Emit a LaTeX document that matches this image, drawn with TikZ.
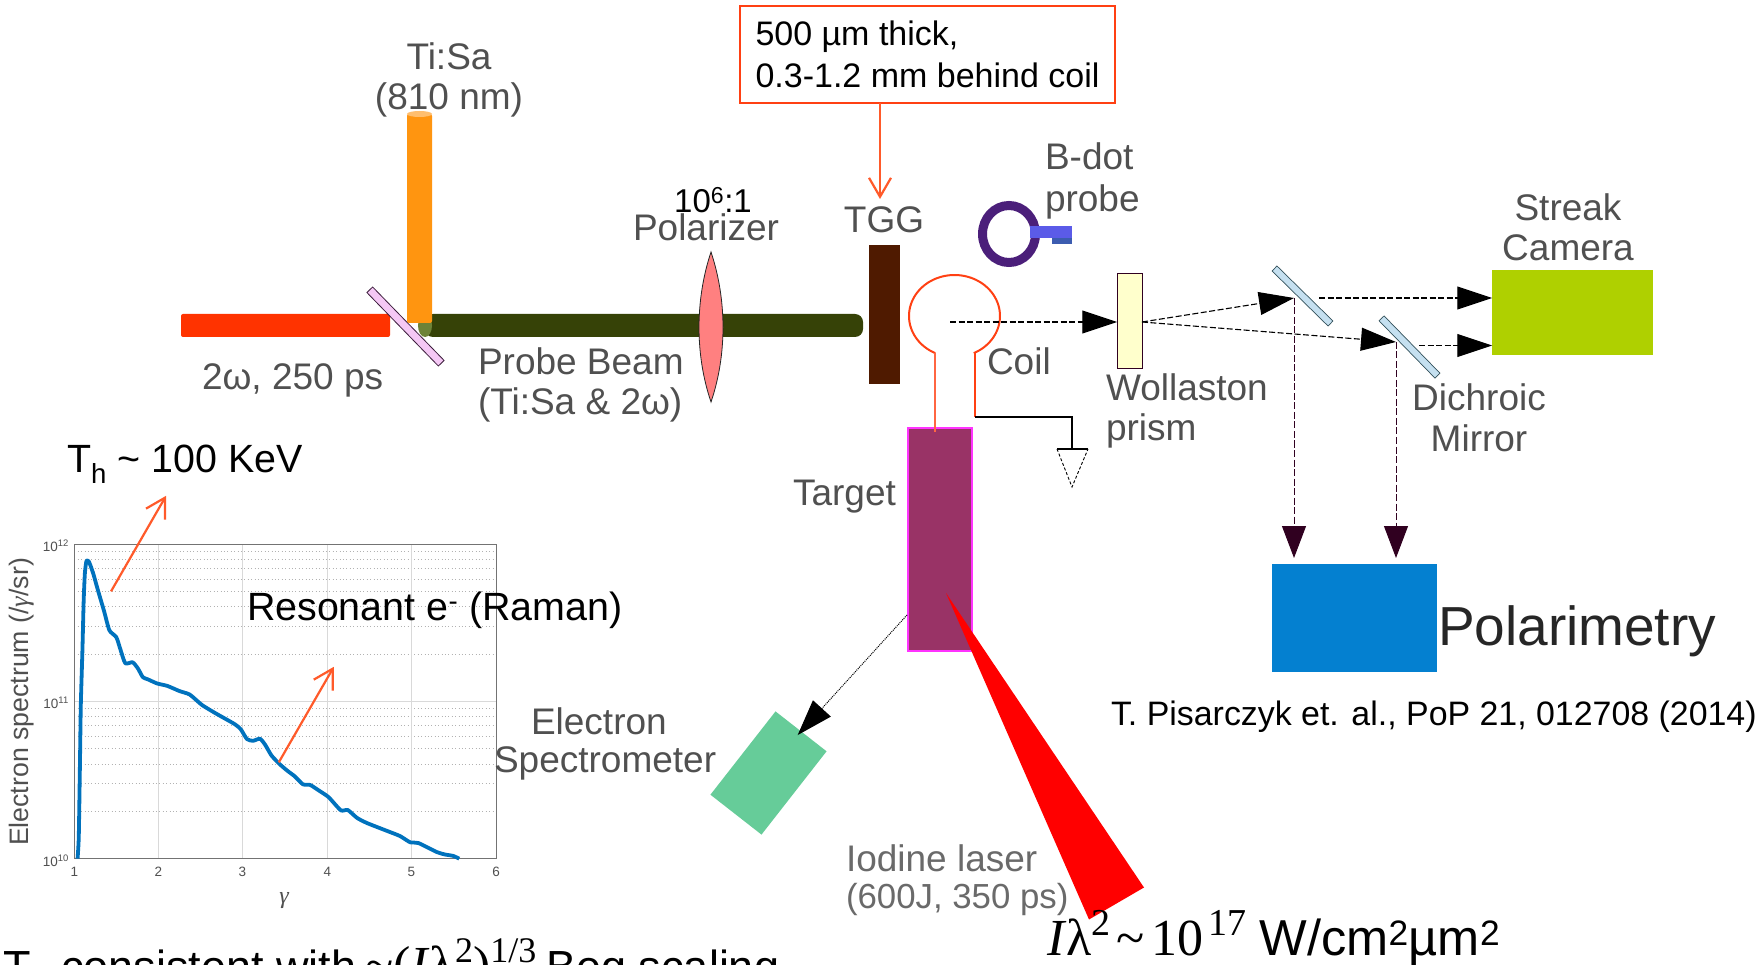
\documentclass[tikz,border=0pt]{standalone}
\usepackage{fontspec}
\setmainfont{Liberation Sans}
\newfontfamily\serifm{Liberation Serif}
\usetikzlibrary{arrows.meta,calc,shapes.geometric}
\newcommand{\fsz}[1]{\fontsize{#1}{#1}\selectfont}
\definecolor{calloutred}{HTML}{FF4013}
\definecolor{arrorange}{HTML}{FF5A2A}
\definecolor{labelgrey}{HTML}{505050}
\definecolor{plotblue}{HTML}{0072BD}
\definecolor{darkviolet}{HTML}{300020}
\tikzset{
  x=1pt,y=-1pt,
  glabel/.style={inner sep=0pt,outer sep=0pt,anchor=base west,text=labelgrey,font=\fsz{37},yshift=-3pt},
  clabel/.style={glabel,anchor=base},
  blabel/.style={inner sep=0pt,outer sep=0pt,anchor=base west,text=black,font=\fsz{39.4}},
  part/.style={rectangle,inner sep=0pt,outer sep=0pt},
  bigtip/.style={-{Triangle[length=35pt,width=23pt]}},
  beamline/.style={dash pattern=on 6pt off 2.5pt,line width=1.1pt,black,bigtip},
  polline/.style={dash pattern=on 7pt off 2.5pt,line width=1pt,darkviolet,-{Triangle[length=32pt,width=24pt]}},
  barb/.style={line width=2.2pt,arrorange,-{Straight Barb[length=19pt,width=22pt,line width=2.2pt]}},
  tick/.style={inner sep=0pt,text=labelgrey,font=\fsz{13.5}},
}
\begin{document}
\begin{tikzpicture}
\useasboundingbox (0,0) rectangle (1762,965);
\clip (0,0) rectangle (1762,965);
\fill[white] (0,0) rectangle (1762,965);
% ---- plot
\coordinate (pNW) at (74.3,544.1);
\coordinate (pSE) at (496,858.6);
\foreach \d in {0,1}{
  \foreach \n in {2,...,9}{
    \pgfmathsetmacro{\yy}{858.6-157.25*\d-157.25*log10(\n)}
    \draw[gray!60,dash pattern=on .8pt off 2.6pt,line width=.7pt] (74.3,\yy) -- (496,\yy);
  }
}
\draw[gray!30,line width=.8pt] (74.3,701.4) -- (496,701.4);
\foreach \xx in {158.4,242.4,327.3,411.4}{
  \draw[gray!30,line width=.8pt] (\xx,544.1) -- (\xx,858.6);
}
\draw[gray!90!black,line width=1pt] (pNW) rectangle (pSE);
\foreach \xx/\t in {74.3/1,158.4/2,242.4/3,327.3/4,411.4/5,496/6}{
  \node[tick] (xt\t) at (\xx,872) {\t};
}
\node[tick,anchor=east] (yt12) at (69,546) {10\textsuperscript{12}};
\node[tick,anchor=east] (yt11) at (69,703) {10\textsuperscript{11}};
\node[tick,anchor=east] (yt10) at (69,861) {10\textsuperscript{10}};
\node[inner sep=0pt,text=labelgrey,rotate=90,font=\fsz{26.7}] (ylab) at (22,702) {Electron spectrum (/{\serifm\itshape γ}/sr)};
\node[inner sep=0pt,text=labelgrey,font=\serifm\itshape\fsz{24}] (xlab) at (284,901) {γ};
\begin{scope}[shift={(0,420)},x=0.40816pt,y=-0.34758pt]
\draw[plotblue,line width=3.8pt,line join=round] plot[smooth,tension=.35] coordinates {
(190,1262)(193,1200)(196,980)(198,820)(202,660)(205,520)(208,440)(212,405)(218,408)(228,440)(240,490)(255,550)(268,605)(285,625)(295,660)(307,700)(325,697)(338,715)(350,740)(362,746)(385,758)(410,765)(440,780)(465,790)(495,820)(530,845)(575,875)(590,890)(605,918)(620,923)(637,917)(650,935)(665,965)(685,990)(705,1010)(722,1025)(742,1048)(760,1050)(780,1065)(805,1085)(835,1123)(852,1122)(875,1145)(900,1160)(950,1183)(980,1197)(1005,1215)(1025,1217)(1070,1243)(1090,1250)(1110,1254)(1125,1262)};
\coordinate (a1s) at (272,493); \coordinate (a1e) at (407,218);
\coordinate (a2s) at (683,985); \coordinate (a2e) at (818,710);
\end{scope}
\draw[barb] (a1s) -- (a1e);
\draw[barb] (a2s) -- (a2e);
\node[blabel] (th) at (67,472) {T\textsubscript{h} \textasciitilde{} 100 KeV};
\node[blabel] (res) at (247,620) {Resonant e\textsuperscript{-} (Raman)};
\node[blabel,font=\fsz{45}] (beg) at (3,982) {T\textsubscript{h} consistent with\hspace{9pt}{\serifm\fsz{52}\textasciitilde(\textit{I}λ\raisebox{20pt}{\fsz{36}2})\raisebox{20pt}{\fsz{36}1/3}}\hspace{10pt}Beg scaling};
% ---- beams
\fill[rounded corners=2pt,fill={rgb,255:red,255;green,51;blue,0}] (181,314) rectangle (390,337);
\fill[rounded corners=8pt,fill={rgb,255:red,54;green,66;blue,7}] (425,314) rectangle (863,337);
\fill[fill={rgb,255:red,109;green,130;blue,55}] (425,325.5) ellipse (7 and 11.5);
\node[part,draw={rgb,255:red,60;green,30;blue,60},fill={rgb,255:red,245;green,200;blue,245},line width=.8pt,minimum width=102.5pt,minimum height=8pt,rotate=-45.8] (bs) at (405.5,326.5) {};
\fill[rounded corners=2pt,fill={rgb,255:red,255;green,149;blue,16}] (407,114) rectangle (432,323);
\fill[fill={rgb,255:red,255;green,190;blue,110}] (419.5,114) ellipse (12.5 and 3);
% polarizer
\draw[fill={rgb,255:red,255;green,128;blue,128},draw=black!85,line width=.8pt] (711,252) .. controls (695,300) and (695,355) .. (711,402) .. controls (727,355) and (727,300) .. (711,252) -- cycle;
% TGG
\node[part,fill={rgb,255:red,79;green,26;blue,0},minimum width=31pt,minimum height=139pt] (tgg) at (884.5,314.5) {};
% callout
\node[part,draw=calloutred,line width=2.6pt,fill=white,minimum height=97pt,minimum width=375pt,align=left,font=\fontsize{34}{42}\selectfont,text=black] (callout) at (927.5,54.5) {500 µm thick,\\0.3-1.2 mm behind coil};
\coordinate (tggtop) at (880,199);
\draw[barb,line width=1.8pt] (tggtop |- callout.south) -- (tggtop);
% coil
\draw[calloutred,line width=2pt] plot[smooth,domain=115:425,samples=50] ({954.5+45.5*cos(\x)},{316+41*sin(\x)});
\coordinate (coilL) at (935,353);
\coordinate (coilR) at (975,353);
\coordinate (coilC) at (950,322);
% target
\node[part,draw={rgb,255:red,255;green,51;blue,255},line width=1.3pt,fill={rgb,255:red,153;green,51;blue,102},minimum width=64pt,minimum height=223pt] (tgt) at (940,539.5) {};
\draw[calloutred!80!white,line width=1.2pt] (coilL) -- ($(coilL |- tgt.north)+(0,4)$);
\coordinate (gndTop) at (1072,449);
\coordinate (wireCorner) at (975,417);
\draw[calloutred,line width=2.6pt] (coilR) -- (wireCorner);
\draw[black,line width=1.2pt] (wireCorner) -- (wireCorner -| gndTop) -- (gndTop);
\draw[black,line width=1.8pt] (1057,449) -- (1088,449);
\draw[black,densely dashed,line width=.9pt] (1057,449) -- (1072,487) -- (1088,449);
% b-dot
\draw[line width=9pt,draw={rgb,255:red,75;green,31;blue,122}] (1009,234) ellipse (26.5 and 28.5);
\fill[fill={rgb,255:red,91;green,91;blue,232}] (1030,226) rectangle (1072,238);
\fill[fill={rgb,255:red,60;green,92;blue,176}] (1052,238) rectangle (1072,244);
% wollaston + mirrors + camera
\node[part,draw=darkviolet,line width=1pt,fill={rgb,255:red,255;green,255;blue,204},minimum width=25.5pt,minimum height=95pt] (woll) at (1130,321.5) {};
\node[part,draw={rgb,255:red,50;green,80;blue,90},line width=.7pt,fill={rgb,255:red,197;green,224;blue,240},minimum width=78.5pt,minimum height=7pt,rotate=-44.5] (m1) at (1302.5,296) {};
\node[part,draw={rgb,255:red,50;green,80;blue,90},line width=.7pt,fill={rgb,255:red,197;green,224;blue,240},minimum width=80pt,minimum height=7pt,rotate=-45.7] (m2) at (1409.5,347) {};
\node[part,fill={rgb,255:red,175;green,208;blue,0},minimum width=160.5pt,minimum height=85pt] (cam) at (1572.5,312.5) {};
\node[part,fill={rgb,255:red,4;green,128;blue,208},minimum width=165.5pt,minimum height=108pt] (pol) at (1354.7,618) {};
% beam path
\draw[beamline] (coilC) -- (woll.west |- coilC);
\coordinate (split) at (1142,322);
\coordinate (hit1) at (1294,298);
\coordinate (hit2) at (1396,342);
\draw[beamline] (split) -- (hit1);
\draw[beamline] (split) -- (hit2);
\coordinate (out1) at (1319,298);
\coordinate (out2) at (1419,345.5);
\draw[beamline] (out1) -- (out1 -| cam.west);
\draw[beamline] (out2) -- (out2 -| cam.west);
\draw[polline,shorten >=6pt] (hit1) -- (hit1 |- pol.north);
\draw[polline,shorten >=6pt] (hit2) -- (hit2 |- pol.north);
% spectrometer
\node[part,fill={rgb,255:red,102;green,204;blue,153},minimum width=64.8pt,minimum height=105.7pt,rotate=-38] (spec) at (768.5,773) {};
\coordinate (tgtEdge) at (907,615);
\draw[black,densely dotted,line width=1pt,shorten >=-5pt,-{Triangle[length=36pt,width=24pt]}] (tgtEdge) -- (spec.north);
% laser
\fill[fill={rgb,255:red,255;green,0;blue,0}] (946,593) -- (1144,887.5) -- (1089,919.5) -- cycle;
% labels
\node[clabel] (tisa) at (449,67) {Ti:Sa};
\node[clabel] (tisa2) at (449,107) {(810 nm)};
\node[clabel,text=black,font=\fsz{33}] (ratio) at (713,210) {10\textsuperscript{6}:1};
\node[clabel] (polz) at (706,238) {Polarizer};
\node[clabel] (tgglab) at (884,230) {TGG};
\node[glabel] (two) at (202,387) {2ω, 250 ps};
\node[glabel] (probe) at (478,372) {Probe Beam};
\node[glabel] (probe2) at (478,412) {(Ti:Sa \& 2ω)};
\node[glabel] (bdot) at (1045,167) {B-dot};
\node[glabel] (bdot2) at (1045,209) {probe};
\node[clabel] (streak) at (1568,218) {Streak};
\node[clabel] (camera) at (1568,258) {Camera};
\node[glabel] (coil) at (987,372) {Coil};
\node[glabel] (wol) at (1106,398) {Wollaston};
\node[glabel] (wol2) at (1106,438) {prism};
\node[clabel] (dich) at (1479,407) {Dichroic};
\node[clabel] (mirr) at (1479,448) {Mirror};
\node[glabel] (tlab) at (793,502) {Target};
\node[glabel] (el) at (531,731) {Electron};
\node[glabel] (el2) at (494,769) {Spectrometer};
\node[glabel,text=labelgrey!85!white] (iod) at (846,868) {Iodine laser};
\node[glabel,text=labelgrey!85!white,font=\fsz{34.8}] (iod2) at (846,905) {(600J, 350 ps)};
\node[glabel,text=black!85,font=\fsz{55},yshift=3pt] (polar) at (1438,645) {Polarimetry};
\node[blabel,font=\fsz{33.9}] (ref) at (1111,725) {T. Pisarczyk et. al., PoP 21, 012708 (2014)};
\node[blabel,font=\fsz{50.5}] (ilam) at (1047,955) {{\serifm\fsz{52}\textit{I}λ\raisebox{20pt}{\fsz{38}2}\hspace{6pt}\textasciitilde\hspace{7pt}10\hspace{5pt}\raisebox{20pt}{\fsz{38}17}}\hspace{13pt}W/cm\textsuperscript{2}µm\textsuperscript{2}};
\end{tikzpicture}
\end{document}
